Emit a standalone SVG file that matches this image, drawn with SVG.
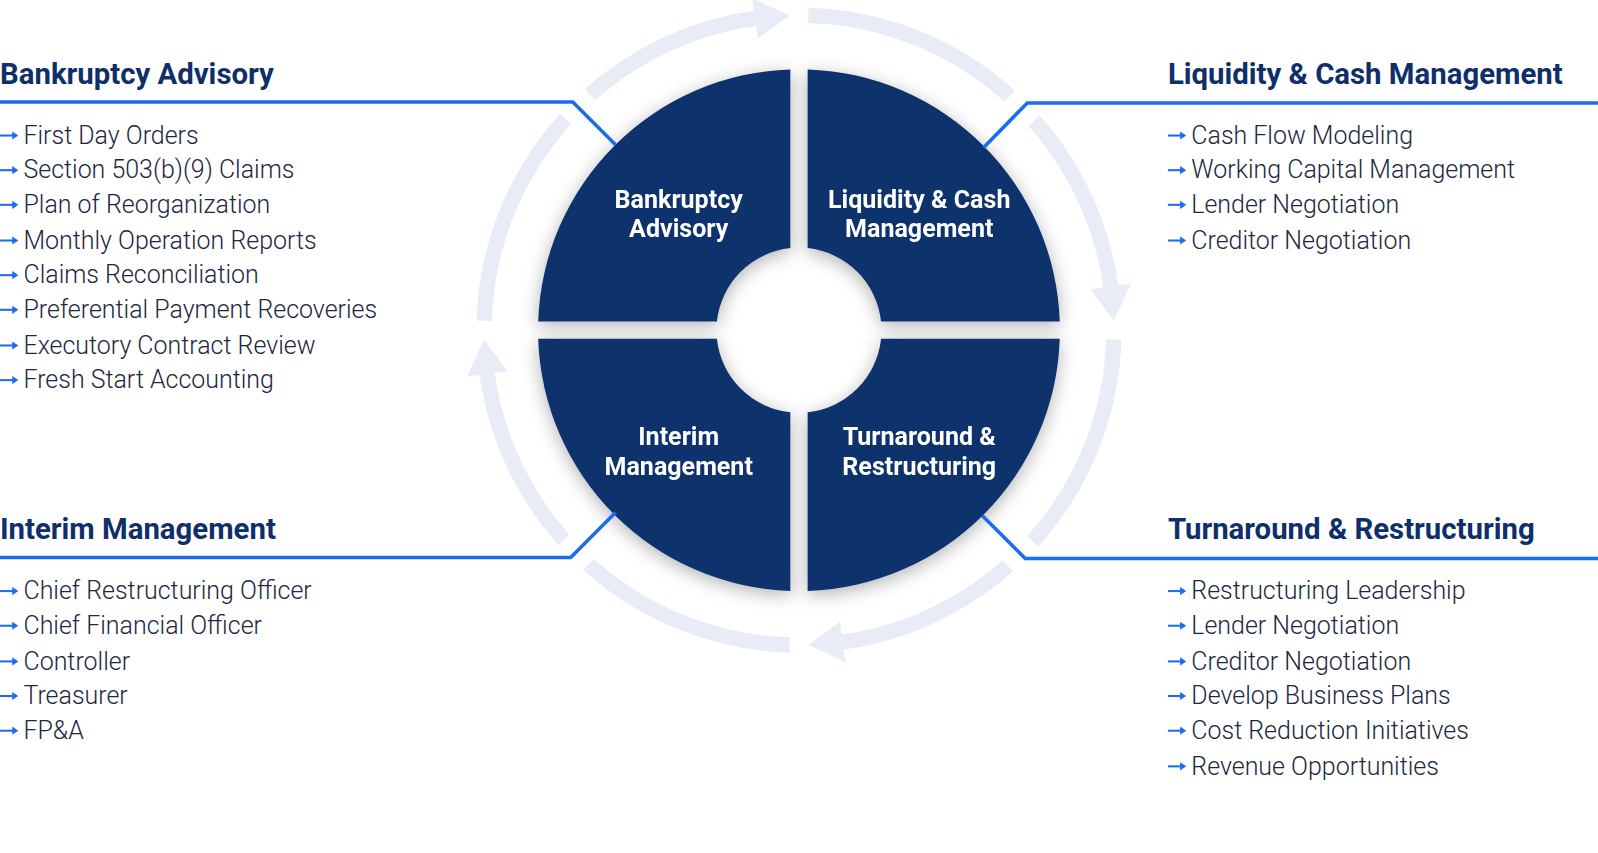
<svg xmlns="http://www.w3.org/2000/svg" xmlns:xlink="http://www.w3.org/1999/xlink" width="1598" height="853" viewBox="0 0 1598 853">
<defs>
<style>
.h{font-family:Roboto,"Liberation Sans",sans-serif;font-weight:700;font-size:28.8px;fill:#0f2f6b}
.it{font-family:Roboto,"Liberation Sans",sans-serif;font-weight:300;font-size:24.5px;fill:#1c2840}
.ql{font-family:Roboto,"Liberation Sans",sans-serif;font-weight:700;font-size:24.6px;fill:#ffffff;text-anchor:middle}
.q{fill:#0e306c}
.ring{fill:none;stroke:#e8ecf7;stroke-width:15}
.gap{fill:none;stroke:#ffffff;stroke-width:34}
.con{fill:none;stroke:#1a6cf0;stroke-width:3.5}
.bl{stroke:#1a6cf0;stroke-width:2;fill:none}
</style>
<filter id="sh" x="-20%" y="-20%" width="140%" height="140%"><feDropShadow dx="0" dy="4" stdDeviation="9" flood-color="#000" flood-opacity="0.3"/></filter>
<g id="seg"><path class="ring" d="M475.1,314.8 A309,309 0 0 1 741,18"/><path fill="#e8ecf7" d="M743.8,37.8 L738.2,-1.8 L774.8,15.1 Z"/></g>
<g id="b"><path class="bl" d="M0,0 H15"/><path fill="#1a6cf0" d="M12,-4 L18,0 L12,4 Z"/></g>
</defs>
<rect width="1598" height="853" fill="#fff"/>
<g transform="scale(1.0191)">
<g id="ringArrows">
<use xlink:href="#seg"/>
<use xlink:href="#seg" transform="rotate(90 784 324)"/>
<use xlink:href="#seg" transform="rotate(180 784 324)"/>
<use xlink:href="#seg" transform="rotate(270 784 324)"/>
</g>
<g id="gaps">
<path class="gap" d="M552,90 L612,150"/>
<path class="gap" d="M1018,91 L956,153"/>
<path class="gap" d="M550,557 L612,496"/>
<path class="gap" d="M1016,558 L956,498"/>
</g>
<g id="pie" filter="url(#sh)">
<g id="q-bankruptcy"><path class="q" d="M528.1,315.5 A256,256 0 0 1 775.5,68.1 L775.5,243.45 A81,81 0 0 0 703.45,315.5 Z"/><text class="ql" x="666" y="204">Bankruptcy</text><text class="ql" x="666" y="233">Advisory</text></g>
<g id="q-liquidity"><path class="q" d="M792.5,68.1 A256,256 0 0 1 1039.9,315.5 L864.55,315.5 A81,81 0 0 0 792.5,243.45 Z"/><text class="ql" x="902" y="204">Liquidity &amp; Cash</text><text class="ql" x="902" y="233">Management</text></g>
<g id="q-turnaround"><path class="q" d="M1039.9,332.5 A256,256 0 0 1 792.5,579.9 L792.5,404.55 A81,81 0 0 0 864.55,332.5 Z"/><text class="ql" x="902" y="437">Turnaround &amp;</text><text class="ql" x="902" y="466">Restructuring</text></g>
<g id="q-interim"><path class="q" d="M775.5,579.9 A256,256 0 0 1 528.1,332.5 L703.45,332.5 A81,81 0 0 0 775.5,404.55 Z"/><text class="ql" x="666" y="437">Interim</text><text class="ql" x="666" y="466">Management</text></g>
</g>
<g id="connectors">
<path class="con" d="M0,100 H562 L604,142"/>
<path class="con" d="M1568,101 H1008 L965,145"/>
<path class="con" d="M0,547 H560 L604,503"/>
<path class="con" d="M1568,548 H1006 L964,506"/>
</g>
<g id="list-bankruptcy">
<text class="h" x="0" y="82">Bankruptcy Advisory</text>
<use xlink:href="#b" x="0" y="133"/><text class="it" x="23" y="141">First Day Orders</text>
<use xlink:href="#b" x="0" y="167"/><text class="it" x="23" y="175">Section 503(b)(9) Claims</text>
<use xlink:href="#b" x="0" y="201"/><text class="it" x="23" y="209">Plan of Reorganization</text>
<use xlink:href="#b" x="0" y="236"/><text class="it" x="23" y="244">Monthly Operation Reports</text>
<use xlink:href="#b" x="0" y="270"/><text class="it" x="23" y="278">Claims Reconciliation</text>
<use xlink:href="#b" x="0" y="304"/><text class="it" x="23" y="312">Preferential Payment Recoveries</text>
<use xlink:href="#b" x="0" y="339"/><text class="it" x="23" y="347">Executory Contract Review</text>
<use xlink:href="#b" x="0" y="373"/><text class="it" x="23" y="381">Fresh Start Accounting</text>
</g>
<g id="list-liquidity">
<text class="h" x="1146" y="82">Liquidity &amp; Cash Management</text>
<use xlink:href="#b" x="1146" y="133"/><text class="it" x="1169" y="141">Cash Flow Modeling</text>
<use xlink:href="#b" x="1146" y="167"/><text class="it" x="1169" y="175">Working Capital Management</text>
<use xlink:href="#b" x="1146" y="201"/><text class="it" x="1169" y="209">Lender Negotiation</text>
<use xlink:href="#b" x="1146" y="236"/><text class="it" x="1169" y="244">Creditor Negotiation</text>
</g>
<g id="list-interim">
<text class="h" x="0" y="529">Interim Management</text>
<use xlink:href="#b" x="0" y="580"/><text class="it" x="23" y="588">Chief Restructuring Officer</text>
<use xlink:href="#b" x="0" y="614"/><text class="it" x="23" y="622">Chief Financial Officer</text>
<use xlink:href="#b" x="0" y="649"/><text class="it" x="23" y="657">Controller</text>
<use xlink:href="#b" x="0" y="683"/><text class="it" x="23" y="691">Treasurer</text>
<use xlink:href="#b" x="0" y="717"/><text class="it" x="23" y="725">FP&amp;A</text>
</g>
<g id="list-turnaround">
<text class="h" x="1146" y="529">Turnaround &amp; Restructuring</text>
<use xlink:href="#b" x="1146" y="580"/><text class="it" x="1169" y="588">Restructuring Leadership</text>
<use xlink:href="#b" x="1146" y="614"/><text class="it" x="1169" y="622">Lender Negotiation</text>
<use xlink:href="#b" x="1146" y="649"/><text class="it" x="1169" y="657">Creditor Negotiation</text>
<use xlink:href="#b" x="1146" y="683"/><text class="it" x="1169" y="691">Develop Business Plans</text>
<use xlink:href="#b" x="1146" y="717"/><text class="it" x="1169" y="725">Cost Reduction Initiatives</text>
<use xlink:href="#b" x="1146" y="752"/><text class="it" x="1169" y="760">Revenue Opportunities</text>
</g>
</g>
</svg>
